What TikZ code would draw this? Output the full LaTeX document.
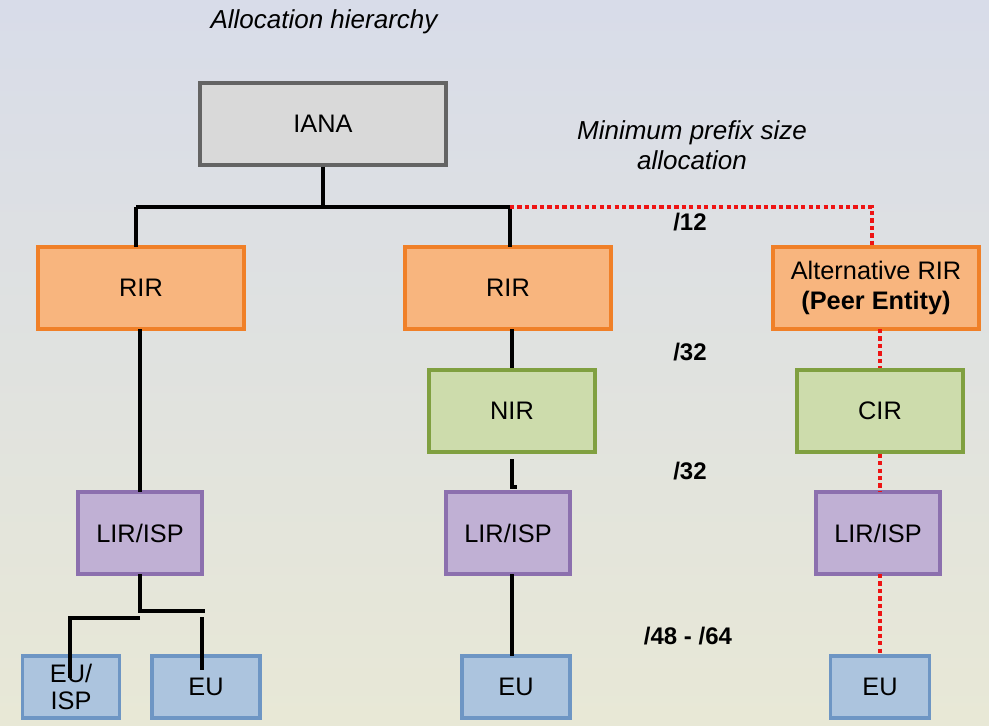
\documentclass[tikz,border=0pt]{standalone}
\usepackage{fontspec}
\setmainfont{Liberation Sans}
\usetikzlibrary{positioning}
\definecolor{bgtop}{RGB}{216,220,233}
\definecolor{bgbot}{RGB}{232,232,214}
\definecolor{ianafill}{RGB}{217,217,217}
\definecolor{ianaline}{RGB}{100,100,100}
\definecolor{rirfill}{RGB}{248,181,126}
\definecolor{rirline}{RGB}{240,128,40}
\definecolor{nirfill}{RGB}{205,220,172}
\definecolor{nirline}{RGB}{128,160,64}
\definecolor{lirfill}{RGB}{192,176,212}
\definecolor{lirline}{RGB}{140,112,174}
\definecolor{eufill}{RGB}{172,196,222}
\definecolor{euline}{RGB}{110,150,196}
\definecolor{peerred}{RGB}{238,20,20}
\tikzset{
  box/.style={draw, line width=2.4pt, align=center, inner sep=2pt,
    font=\fontsize{19}{22.5}\selectfont},
  ianabox/.style={box, fill=ianafill, draw=ianaline},
  rirbox/.style={box, fill=rirfill, draw=rirline, minimum width=154.5pt, minimum height=61.5pt},
  nirbox/.style={box, fill=nirfill, draw=nirline, minimum width=124.5pt, minimum height=61.5pt},
  lirbox/.style={box, fill=lirfill, draw=lirline, minimum width=93pt, minimum height=61.5pt},
  eubox/.style={box, fill=eufill, draw=euline, minimum height=46.5pt},
  tree/.style={line width=2.6pt, black},
  peer/.style={line width=2.6pt, peerred, dash pattern=on 3.2pt off 2.4pt},
  note/.style={font=\fontsize{19.5}{22.5}\selectfont\itshape, align=center},
  size/.style={font=\fontsize{18}{22}\selectfont\bfseries}
}
\begin{document}
\begin{tikzpicture}[x=0.75pt,y=0.75pt,yscale=-1,xscale=1]
\useasboundingbox (0,0) rectangle (989,725);
\shade[top color=bgtop, bottom color=bgbot] (0,0) rectangle (989,725);

%titles
\node[note] (title) at (324,22) {Allocation hierarchy};
\node[note] (minsize) at (692,145) {Minimum prefix size\\allocation};

%boxes
\node[ianabox, minimum width=184.5pt, minimum height=61.5pt] (iana) at (323,124) {IANA};
\node[rirbox] (rirA) at (141,288) {RIR};
\node[rirbox] (rirB) at (508,288) {RIR};
\node[rirbox] (rirC) at (876,288) {Alternative RIR\\\textbf{(Peer Entity)}};
\node[nirbox] (nir) at (512,411) {NIR};
\node[nirbox] (cir) at (880,411) {CIR};
\node[lirbox] (lirA) at (140,533) {LIR/ISP};
\node[lirbox] (lirB) at (508,533) {LIR/ISP};
\node[lirbox] (lirC) at (878,533) {LIR/ISP};
\node[eubox, minimum width=73pt, font=\fontsize{19}{20}\selectfont] (euisp) at (71,687) {EU/\\ISP};
\node[eubox, minimum width=81pt] (euA) at (206,687) {EU};
\node[eubox, minimum width=81pt] (euB) at (516,687) {EU};
\node[eubox, minimum width=74pt] (euC) at (880,687) {EU};

%prefix sizes
\node[size] (s12) at (690,222) {/12};
\node[size] (s32a) at (690,352) {/32};
\node[size] (s32b) at (690,471) {/32};
\node[size] (s48) at (688,636) {/48 - /64};

%tree lines
\coordinate (split) at (323,207);
\coordinate (midtop) at (510,207);
\draw[tree] (iana.south) -- (split);
\draw[tree] (136,207) -- (midtop);
\draw[tree] (136,207) -- (136,247);
\draw[tree] (midtop) -- (510,247);
\draw[tree] (512,329) -- (nir.north -| 512,0);
\draw[tree] (512,459) -- (512,487) -- (517,487);
\draw[tree] (140,329) -- (140,492);
\draw[tree] (140,574) -- (140,611) -- (205,611);
\draw[tree] (140,618) -- (70,618) -- (70,678);
\draw[tree] (202,617) -- (202,670);
\draw[tree] (512,574) -- (512,656);

%peer entity path
\draw[peer] (midtop) -- (872,207) -- (872,247);
\draw[peer] (880,329) -- (cir.north);
\draw[peer] (cir.south) -- (880,492);
\draw[peer] (880,574) -- (euC.north);
\end{tikzpicture}
\end{document}
